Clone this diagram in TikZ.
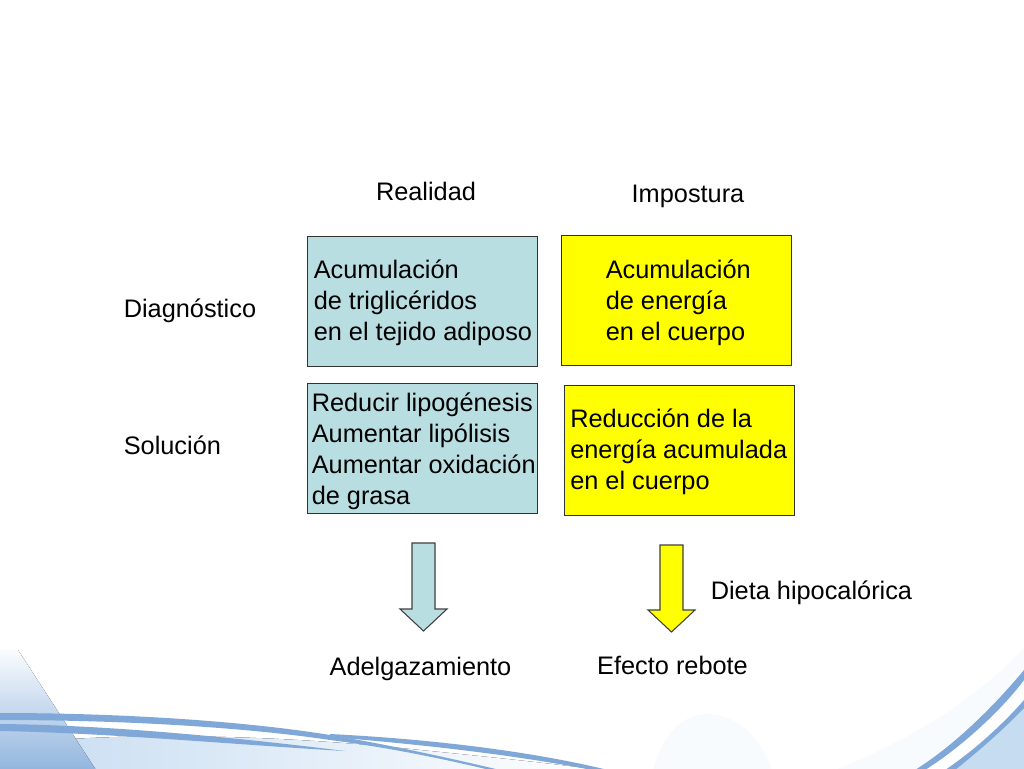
\documentclass[tikz,border=0pt]{standalone}
\usepackage{fontspec}
\setmainfont{Liberation Sans}
\definecolor{realblue}{HTML}{B9DEE2}
\definecolor{impyellow}{RGB}{255,255,0}
\definecolor{bandblue}{HTML}{7FA8D8}
\definecolor{paleblue}{HTML}{C6DCF1}
\tikzset{
  cell/.style={draw=black!80, line width=0.7pt, minimum width=172.5pt, minimum height=97.5pt, inner sep=0pt},
  realcell/.style={cell, fill=realblue},
  impcell/.style={cell, fill=impyellow},
  celltext/.style={anchor=west, align=left, inner sep=0pt},
  heading/.style={inner sep=0pt},
  bigarrow/.style={draw=black!75, line width=0.8pt, line join=miter}
}
\begin{document}
\begin{tikzpicture}[x=0.75pt, y=-0.75pt, every node/.append style={font=\fontsize{19}{23.25}\selectfont}]

  % Fix the page to the size of the slide
  \useasboundingbox (0,0) rectangle (1024,768);

  % Slide background, bottom left
  \begin{scope}
    \clip (0,0) rectangle (1024,768);
    \fill[left color=paleblue, right color=white] (0,745) .. controls (130,730) and (290,736) .. (420,750) .. controls (470,755) and (540,762) .. (600,770) -- (0,770) -- cycle;
    \fill[top color=paleblue!10, bottom color=bandblue!85] (0,650) -- (18,650) -- (96,770) -- (0,770) -- cycle;
    % The swooshing bands
    \fill[bandblue] (0,713) .. controls (130,713) and (250,722) .. (330,735) .. controls (390,745) and (445,757) .. (500,770) -- (490,770) .. controls (440,758) and (385,747) .. (330,740) .. controls (250,728) and (130,720) .. (0,720) -- cycle;
    \fill[bandblue] (0,724) .. controls (110,725) and (240,738) .. (345,751) .. controls (240,745) and (110,733) .. (0,731) -- cycle;
    \fill[bandblue] (330,734) .. controls (430,739) and (530,751) .. (608,770) -- (592,770) .. controls (520,756) and (430,745) .. (330,737) -- cycle;

    % Slide background, bottom right
    \fill[paleblue!12] (653,770) .. controls (665,725) and (690,714) .. (707,714) .. controls (735,714) and (760,735) .. (772,770) -- cycle;
    \fill[paleblue!12] (835,770) .. controls (910,740) and (975,700) .. (1024,648) -- (1024,690) -- (917,770) -- cycle;
    \fill[paleblue] (947,770) .. controls (975,750) and (1005,725) .. (1024,708) -- (1024,770) -- cycle;
    \fill[bandblue] (915,770) .. controls (955,745) and (995,705) .. (1024,670) -- (1024,680) .. controls (1000,712) and (960,748) .. (925,770) -- cycle;
    \fill[bandblue] (945,770) .. controls (975,750) and (1005,722) .. (1024,700) -- (1024,708) .. controls (1005,728) and (980,750) .. (955,770) -- cycle;
  \end{scope}

  % Column headings
  \node[heading] (realidad) at (426,191) {Realidad};
  \node[heading] (impostura) at (688,196) {Impostura};

  % Row headings
  \node[heading, anchor=west] (diagnostico) at (123.5,311) {Diagnóstico};
  \node[heading, anchor=west] (solucion) at (123.5,445) {Solución};

  % The four cells
  \node[realcell] (realdiag) at (422,301) {};
  \node[impcell] (impdiag) at (676.5,300) {};
  \node[realcell] (realsol) at (422,448.5) {};
  \node[impcell] (impsol) at (679.5,450) {};

  % Text of the cells
  \node[celltext] (realdiagtext) at (313.5,303) {Acumulación\\de triglicéridos\\en el tejido adiposo};
  \node[celltext] (impdiagtext) at (605.5,303) {Acumulación\\de energía\\en el cuerpo};
  \node[celltext] (realsoltext) at (311.5,451.5) {Reducir lipogénesis\\Aumentar lipólisis\\Aumentar oxidación\\de grasa};
  \node[celltext] (impsoltext) at (570,451.5) {Reducción de la\\energía acumulada\\en el cuerpo};

  % Block arrows
  \draw[bigarrow, fill=realblue] (412,543) -- (435,543) -- (435,609) -- (447,609) -- (423.5,631) -- (400,609) -- (412,609) -- cycle;
  \draw[bigarrow, fill=impyellow] (660,545) -- (683,545) -- (683,610) -- (695,610) -- (671.5,632) -- (648,610) -- (660,610) -- cycle;

  % Labels round the arrows
  \node[heading, anchor=west] (dieta) at (710.5,592.5) {Dieta hipocalórica};
  \node[heading] (adelgazamiento) at (420.5,668.5) {Adelgazamiento};
  \node[heading] (rebote) at (672.5,665) {Efecto rebote};

\end{tikzpicture}
\end{document}
